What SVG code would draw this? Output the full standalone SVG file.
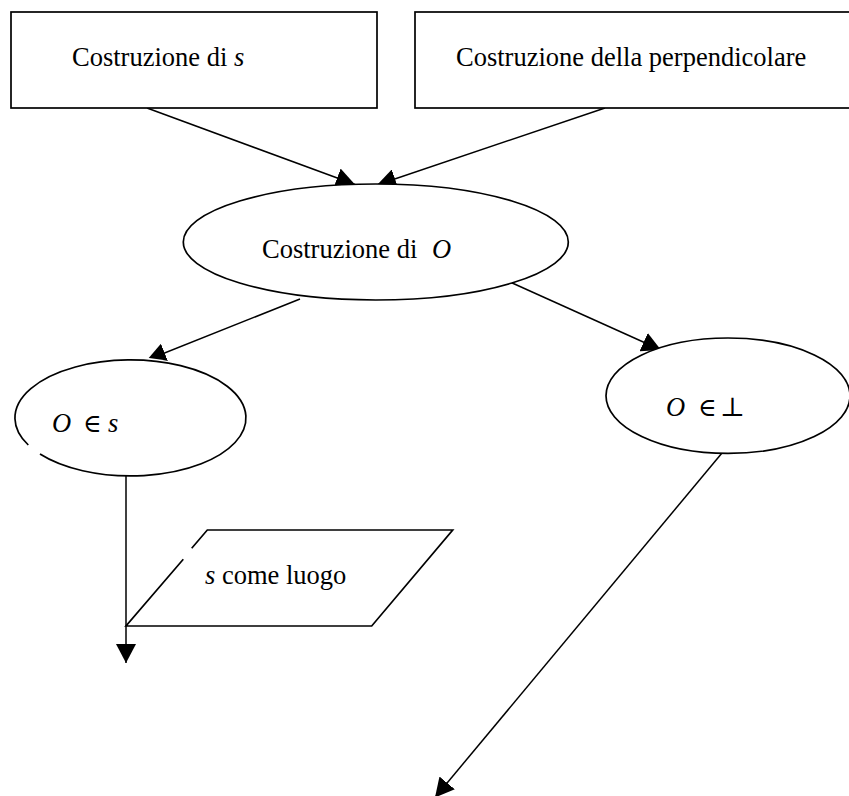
<svg xmlns="http://www.w3.org/2000/svg" width="849" height="796" viewBox="0 0 849 796">
<style>
  .shape { fill: #ffffff; stroke: #000000; stroke-width: 1.7; }
  .edge { fill: none; stroke: #000000; stroke-width: 1.5; marker-end: url(#arrow); }
  .label { font-family: "Liberation Serif", "DejaVu Serif", serif; font-size: 26.5px; fill: #000000; }
  .it { font-style: italic; }
  .sym { font-family: "DejaVu Serif", "Liberation Serif", serif; font-size: 25px; }
</style>
<defs>
  <marker id="arrow" viewBox="0 0 19 20" refX="19" refY="10" markerWidth="19" markerHeight="20" markerUnits="userSpaceOnUse" orient="auto">
    <path d="M0,0 L19,10 L0,20 Z" fill="#000000"/>
  </marker>
</defs>
<rect width="849" height="796" fill="#ffffff"/>
<g id="connectors">
  <line class="edge" x1="147" y1="108" x2="355" y2="184.5"/>
  <line class="edge" x1="605" y1="108" x2="377" y2="185"/>
  <line class="edge" x1="300" y1="299" x2="147" y2="360"/>
  <line class="edge" x1="510" y1="282" x2="661" y2="350"/>
  <line class="edge" x1="126" y1="472" x2="126" y2="663"/>
  <line class="edge" x1="722" y1="453" x2="435" y2="797.5"/>
</g>
<g id="node-costruzione-s">
  <rect class="shape" x="11" y="12" width="366" height="96"/>
  <text class="label" x="72" y="66">Costruzione di <tspan class="it">s</tspan></text>
</g>
<g id="node-costruzione-perpendicolare">
  <rect class="shape" x="415" y="12" width="440" height="96"/>
  <text class="label" x="456" y="66">Costruzione della perpendicolare</text>
</g>
<g id="node-costruzione-O">
  <ellipse class="shape" cx="375.8" cy="242" rx="192.5" ry="58"/>
  <text class="label" x="262" y="258">Costruzione di<tspan class="it" x="432">O</tspan></text>
</g>
<g id="node-O-in-s">
  <ellipse cx="126.5" cy="415" rx="115.5" ry="58" fill="#ffffff" stroke="none"/>
  <path class="shape" fill="none" d="M40,454 A115.5,58 0 1 0 28.3,445"/>
  <text class="label" y="431.5"><tspan class="it" x="52">O</tspan><tspan class="sym" x="83">∈</tspan><tspan class="it" x="108">s</tspan></text>
</g>
<g id="node-O-in-perp">
  <ellipse class="shape" cx="728" cy="395.7" rx="122" ry="57.7"/>
  <text class="label" y="416"><tspan class="it" x="666">O</tspan><tspan class="sym" x="698">∈</tspan><tspan x="720">⊥</tspan></text>
</g>
<g id="node-s-come-luogo">
  <polygon points="207.3,530 452.7,530 371.7,626 126,626" fill="#ffffff" stroke="none"/>
  <path class="shape" fill="none" d="M191.7,548.3 L207.3,530 L452.7,530 L371.7,626 L126,626 L183.3,559.3"/>
  <text class="label" x="205" y="584"><tspan class="it">s</tspan> come luogo</text>
</g>
</svg>
